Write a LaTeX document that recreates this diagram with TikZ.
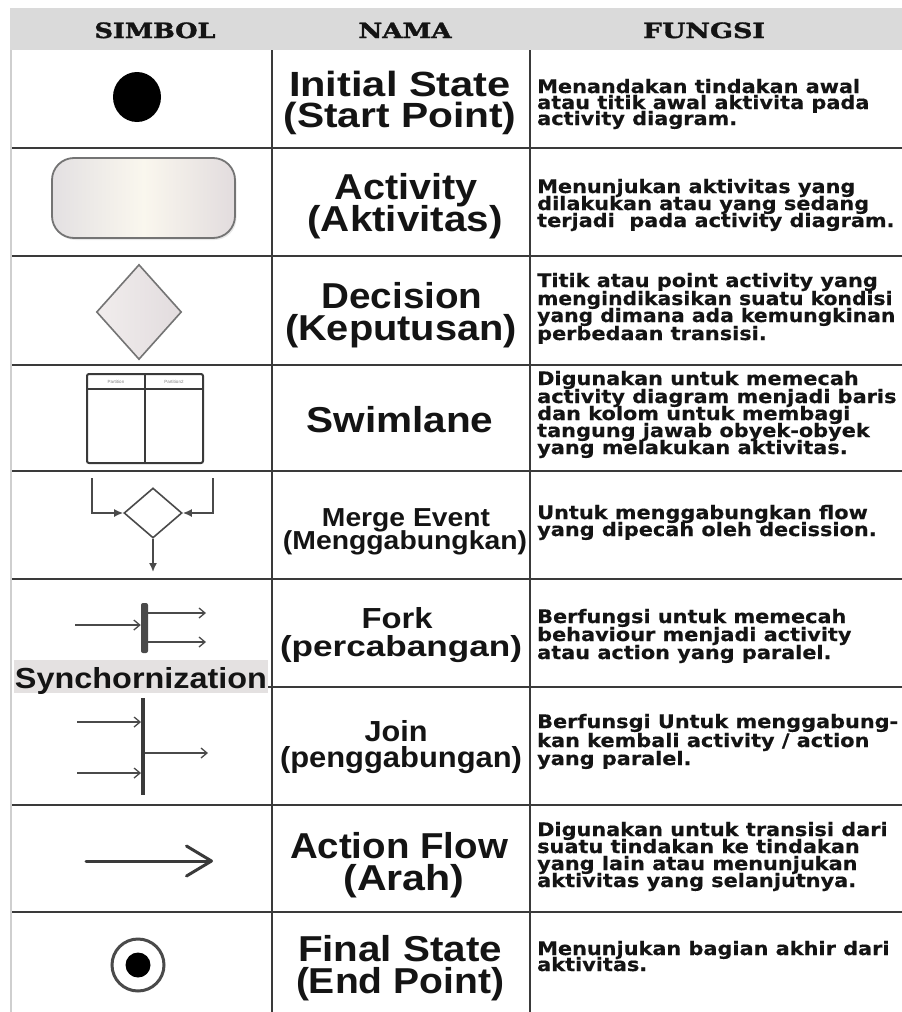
\documentclass[tikz,border=0pt]{standalone}
\usepackage{fontspec}
\usepackage{graphicx}
\usetikzlibrary{arrows.meta,shadows,shapes.geometric}

\newfontfamily\namefont{Liberation Sans}
\newfontfamily\descfont{DejaVu Sans}[BoldFeatures={FakeBold=0.4}]
\newfontfamily\headfont{DejaVu Serif}[BoldFeatures={FakeBold=1.6}]

\definecolor{headbg}{HTML}{DADADA}
\definecolor{rulec}{HTML}{3A3A3A}
\definecolor{inkc}{HTML}{141414}
\definecolor{symc}{HTML}{4A4A4A}
\definecolor{syncbg}{HTML}{E4E1E1}
\definecolor{actL}{HTML}{E3E0E2}
\definecolor{actM}{HTML}{FAF7EE}
\definecolor{actR}{HTML}{E2DCDE}
\definecolor{actEdge}{HTML}{747474}
\definecolor{decL}{HTML}{F1EDED}
\definecolor{decR}{HTML}{E2DCDE}
\definecolor{edgec}{HTML}{CFCFCF}

% stretch a line of text to a given width, keeping its height
\newcommand\wfit[2]{\resizebox{#1}{\height}{#2}}
% the description column is set slightly wide
\newcommand\dl[1]{\scalebox{1.12}[1]{#1}}
\newcommand\squeeze[1]{\scalebox{0.975}[1]{#1}}
% one block of description lines: name prefix, list of baseline/text
\newcommand\descblock[2]{%
  \foreach \yy/\txt [count=\i] in {#2} {\node[desc] (#1\i) at (537,\yy) {\dl{\txt}};}}

\begin{document}
\begin{tikzpicture}[x=1pt,y=-1pt,
  hrule/.style={draw=rulec, line width=2.4pt},
  vrule/.style={draw=rulec, line width=2pt},
  head/.style={font=\headfont\bfseries\fontsize{21}{21}\selectfont, anchor=base, inner sep=0pt, text=inkc},
  nmbig/.style={font=\namefont\bfseries\fontsize{36}{36}\selectfont, anchor=base, inner sep=0pt, text=inkc},
  nmone/.style={font=\namefont\bfseries\fontsize{35}{35}\selectfont, anchor=base, inner sep=0pt, text=inkc},
  nmmid/.style={font=\namefont\bfseries\fontsize{29}{29}\selectfont, anchor=base, inner sep=0pt, text=inkc},
  nmsmall/.style={font=\namefont\bfseries\fontsize{26}{26}\selectfont, anchor=base, inner sep=0pt, text=inkc},
  desc/.style={font=\descfont\bfseries\fontsize{18.6}{18}\selectfont, anchor=base west, inner sep=0pt, text=inkc},
  symline/.style={draw=symc, line width=1.6pt},
  mergearrow/.style={symline, -{Latex[length=9pt,width=8pt]}},
  syncarrow/.style={draw=symc, line width=1.3pt, -{Straight Barb[length=6pt,width=10pt]}},
]
\useasboundingbox (0,0) rectangle (902,1012);
\fill[white] (0,0) rectangle (902,1012);

% ---------- header band ----------
\fill[headbg] (10,8) rectangle (902,50);
\node[head] (hSimbol) at (155,38) {\wfit{121pt}{SIMBOL}};
\node[head] (hNama)   at (405,38) {\wfit{93pt}{NAMA}};
\node[head] (hFungsi) at (704,38) {\wfit{122pt}{FUNGSI}};

% ---------- grid ----------
\draw[draw=edgec, line width=1.2pt] (11,50) -- (11,1012);
\foreach \yy in {148,256,365,471,579,805,912}
  \draw[hrule] (12,\yy) -- (902,\yy);
\draw[hrule] (268,687) -- (902,687);
\draw[vrule] (272,50) -- (272,1012);
\draw[vrule] (530,50) -- (530,1012);

% ---------- symbols ----------
% initial state
\node[ellipse, fill=black, minimum width=48pt, minimum height=50pt, inner sep=0pt] (init) at (137,97) {};

% activity
\node[draw=actEdge, line width=1.8pt, rounded corners=22pt, minimum width=183pt,
      minimum height=80pt, inner sep=0pt,
      left color=actL, right color=actR, middle color=actM,
      drop shadow={opacity=0.18, shadow xshift=1.5pt, shadow yshift=-2pt}]
      (act) at (143.5,198) {};

% decision
\node[diamond, draw=actEdge, line width=1.6pt, minimum width=85pt, minimum height=95pt,
      inner sep=0pt, left color=decL, right color=decR] (dec) at (139,312) {};

% swimlane
\draw[draw=rulec, line width=2pt, rounded corners=2pt] (87,374) rectangle (203,463);
\draw[draw=rulec, line width=2pt] (145,374) -- (145,463);
\draw[draw=rulec, line width=1.6pt] (87,389) -- (203,389);
\node[font=\namefont\fontsize{4.5}{5}\selectfont, text=gray, inner sep=0pt] (part1) at (116,381.5) {Partition};
\node[font=\namefont\fontsize{4.5}{5}\selectfont, text=gray, inner sep=0pt] (part2) at (174,381.5) {Partition2};

% merge event
\node[diamond, symline, minimum width=58pt, minimum height=50pt, inner sep=0pt, fill=white] (mrg) at (153,513) {};
\coordinate (mgL) at (92,478);
\coordinate (mgR) at (213,478);
\coordinate (mgOut) at (153,572);
\draw[mergearrow] (mgL) |- (mrg.west);
\draw[mergearrow] (mgR) |- (mrg.east);
\draw[mergearrow] (mrg.south) -- (mgOut);

% fork
\node[fill=symc, rounded corners=2pt, minimum width=7pt, minimum height=50pt, inner sep=0pt] (forkbar) at (144.5,628) {};
\coordinate (fkIn) at (75,625);
\coordinate (fkO1) at (206,613);
\coordinate (fkO2) at (206,642);
\draw[syncarrow] (fkIn) -- (fkIn -| forkbar.west);
\draw[syncarrow] (forkbar.east |- fkO1) -- (fkO1);
\draw[syncarrow] (forkbar.east |- fkO2) -- (fkO2);

% synchronization label
\fill[syncbg] (14,660) rectangle (268,693);
\node[font=\namefont\bfseries\fontsize{29}{29}\selectfont, anchor=base, inner sep=0pt, text=inkc]
  (sync) at (141,688) {\wfit{252pt}{Synchornization}};

% join
\node[fill=rulec, minimum width=3.5pt, minimum height=97pt, inner sep=0pt] (joinbar) at (143,746.5) {};
\coordinate (jnI1) at (77,722);
\coordinate (jnI2) at (77,773);
\coordinate (jnO) at (208,753);
\draw[syncarrow] (jnI1) -- (jnI1 -| joinbar.west);
\draw[syncarrow] (jnI2) -- (jnI2 -| joinbar.west);
\draw[syncarrow] (joinbar.east |- jnO) -- (jnO);

% action flow
\coordinate (afA) at (86,861);
\coordinate (afB) at (213,861);
\draw[draw=rulec, line width=3pt, line cap=round,
      -{Straight Barb[length=25pt,width=30pt,round]}] (afA) -- (afB);

% final state
\node[circle, draw=symc, line width=3pt, minimum size=52pt, inner sep=0pt, fill=white] (fin) at (138,965) {};
\node[circle, fill=black, minimum size=25pt, inner sep=0pt] (finDot) at (fin) {};

% ---------- names ----------
\node[nmone] (nA1) at (400,96)  {\wfit{222pt}{Initial State}};
\node[nmone] (nA2) at (400,127) {\wfit{233pt}{(Start Point)}};
\node[nmbig] (nB1) at (406,199) {\wfit{143pt}{Activity}};
\node[nmbig] (nB2) at (405,231) {\wfit{195pt}{(Aktivitas)}};
\node[nmbig] (nC1) at (402,308) {\wfit{161pt}{Decision}};
\node[nmbig] (nC2) at (401,340) {\wfit{232pt}{(Keputusan)}};
\node[nmbig] (nD1) at (400,432) {\wfit{187pt}{Swimlane}};
\node[nmsmall] (nE1) at (406,526) {\wfit{168pt}{Merge Event}};
\node[nmsmall] (nE2) at (405,549) {\wfit{244pt}{(Menggabungkan)}};
\node[nmmid] (nF1) at (397,628) {\wfit{71pt}{Fork}};
\node[nmmid] (nF2) at (401,656) {\wfit{242pt}{(percabangan)}};
\node[nmmid] (nG1) at (396,741) {\wfit{63pt}{Join}};
\node[nmmid] (nG2) at (401,767) {\wfit{242pt}{(penggabungan)}};
\node[nmbig] (nH1) at (399,858) {\wfit{218pt}{Action Flow}};
\node[nmbig] (nH2) at (404,890) {\wfit{121pt}{(Arah)}};
\node[nmbig] (nI1) at (400,961) {\wfit{204pt}{Final State}};
\node[nmbig] (nI2) at (400,993) {\wfit{208pt}{(End Point)}};

% ---------- descriptions ----------
\descblock{fA}{93/{Menandakan tindakan awal},109/{atau titik awal aktivita pada},125/{activity diagram.}}
\descblock{fB}{193/{Menunjukan aktivitas yang},210/{dilakukan atau yang sedang},227/{terjadi\ \ pada activity diagram.}}
\descblock{fC}{287/{Titik atau point activity yang},305/{\squeeze{mengindikasikan suatu kondisi}},322/{\squeeze{yang dimana ada kemungkinan}},340/{perbedaan transisi.}}
\descblock{fD}{385/{Digunakan untuk memecah},403/{activity diagram menjadi baris},420/{dan kolom untuk membagi},437/{tangung jawab obyek-obyek},454/{yang melakukan aktivitas.}}
\descblock{fE}{519/{Untuk menggabungkan flow},536/{yang dipecah oleh decission.}}
\descblock{fF}{623/{Berfungsi untuk memecah},641/{behaviour menjadi activity},659/{atau action yang paralel.}}
\descblock{fG}{728/{Berfunsgi Untuk menggabung-},747/{kan kembali activity / action},765/{yang paralel.}}
\descblock{fH}{836/{Digunakan untuk transisi dari},853/{suatu tindakan ke tindakan},870/{yang lain atau menunjukan},887/{aktivitas yang selanjutnya.}}
\descblock{fI}{955/{Menunjukan bagian akhir dari},971/{aktivitas.}}
\end{tikzpicture}
\end{document}
